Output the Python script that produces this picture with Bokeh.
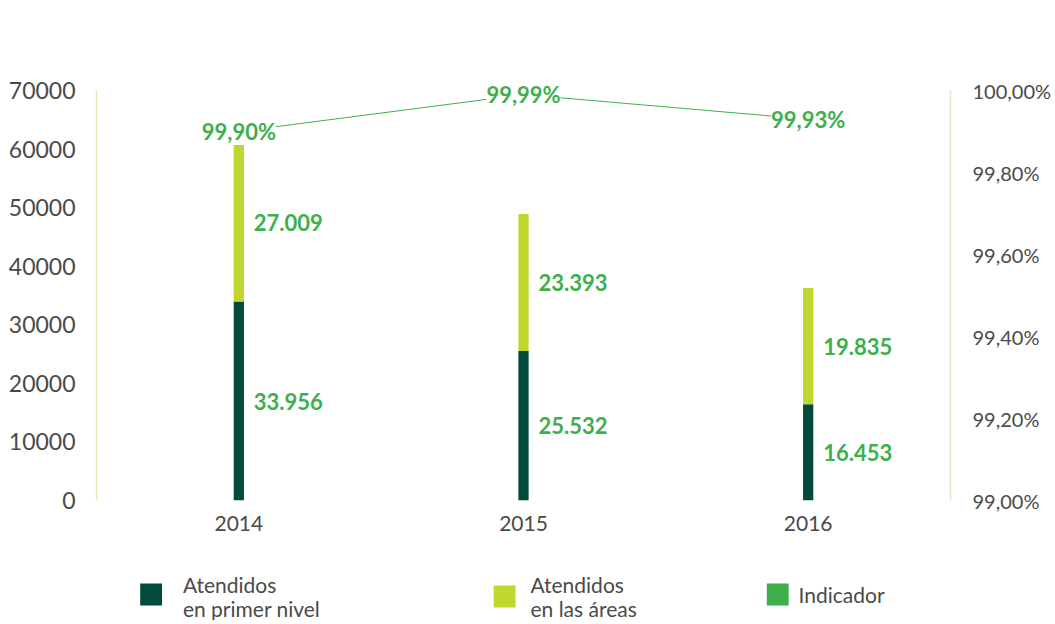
from bokeh.plotting import figure
from bokeh.models import (FactorRange, Range1d, LinearAxis, FixedTicker, CustomJSTickFormatter,
                          ColumnDataSource, LabelSet)
from bokeh.layouts import column
from bokeh.core.properties import value
from bokeh.embed import file_html
from bokeh.resources import INLINE

# ---- data ----
years = ["2014", "2015", "2016"]
primer_nivel = [33956, 25532, 16453]
areas = [27009, 23393, 19835]
indicador = [99.90, 99.99, 99.93]
left_ticks = [0, 10000, 20000, 30000, 40000, 50000, 60000, 70000]
right_ticks = [99.0, 99.2, 99.4, 99.6, 99.8, 100.0]
legend_labels = ["Atendidos\nen primer nivel", "Atendidos\nen las áreas", "Indicador"]

DARK = "#004b3c"
LIGHT = "#c0d72f"
MID = "#3daf4b"
GRAY = "#4a4a4a"
AXIS = "#e3ecb8"
FONT = "Lato"

def fmt_int(v):
    return f"{v:,}".replace(",", ".")

def fmt_pct(v):
    return f"{v:.2f}".replace(".", ",") + "%"

W = 1054
BL, BR = 96, 98
TOP, BOT, H = 16, 40, 540
FRAME_H = H - TOP - BOT  # 484 px; 70000 sits 410 px above the baseline

p = figure(width=W, height=H, x_range=FactorRange(factors=years),
           y_range=Range1d(0, 70000 * FRAME_H / 410),
           output_backend="svg", toolbar_location=None,
           min_border_left=BL, min_border_right=BR, min_border_top=TOP, min_border_bottom=BOT)
p.outline_line_color = None
p.grid.grid_line_color = None
p.background_fill_color = "white"

# right range: 99.00 at bottom, 100.00 at the height of 70000
p.extra_y_ranges = {"pct": Range1d(99.0, 99.0 + FRAME_H / 410)}

src = ColumnDataSource(dict(year=years, primer=primer_nivel, areas=areas))
p.vbar_stack(["primer", "areas"], x="year", width=0.036, color=[DARK, LIGHT], source=src,
             line_color=None)

# value labels
lab_x, lab_y, lab_t = [], [], []
for y, a, b in zip(years, primer_nivel, areas):
    lab_x += [y, y]
    lab_y += [a / 2, a + b / 2]
    lab_t += [fmt_int(a), fmt_int(b)]
p.text(x=lab_x, y=lab_y, text=lab_t, x_offset=15, text_baseline="middle", text_align="left",
       text_font=value(FONT), text_font_style="bold", text_font_size="22px", text_color=MID)

# indicator line
isrc = ColumnDataSource(dict(year=years, ind=indicador, lab=[fmt_pct(v) for v in indicador]))
p.line(x="year", y="ind", source=isrc, y_range_name="pct", line_color=MID, line_width=1)
p.add_layout(LabelSet(x="year", y="ind", text="lab", source=isrc, y_range_name="pct",
                      text_align="center", text_baseline="middle", text_font=value(FONT),
                      text_font_style="bold", text_font_size="22px", text_color=MID,
                      background_fill_color="white", border_line_color=None))

def style_axis(ax, standoff, size):
    ax.axis_line_color = AXIS
    ax.axis_line_width = 1.5
    ax.major_tick_line_color = None
    ax.minor_tick_line_color = None
    ax.major_tick_out = 0
    ax.major_tick_in = 0
    ax.minor_tick_out = 0
    ax.minor_tick_in = 0
    ax.major_label_text_font = FONT
    ax.major_label_text_font_size = size
    ax.major_label_text_color = GRAY
    ax.major_label_standoff = standoff

# left axis
ly = p.yaxis[0]
ly.ticker = FixedTicker(ticks=left_ticks)
ly.bounds = (0, 70000)
style_axis(ly, 21, "23px")

# right axis
ra = LinearAxis(y_range_name="pct", ticker=FixedTicker(ticks=right_ticks),
                formatter=CustomJSTickFormatter(code="return tick.toFixed(2).replace('.', ',') + '%';"))
ra.bounds = (99.0, 100.0)
style_axis(ra, 22, "20px")
p.add_layout(ra, "right")

# x axis
xa = p.xaxis[0]
style_axis(xa, 15, "21px")
xa.axis_line_color = None

# legend figure (x data = page pixels)
LH = 80
lg = figure(width=W, height=LH, x_range=Range1d(BL, W - BR), y_range=Range1d(LH, 0),
            output_backend="svg", toolbar_location=None,
            min_border_left=BL, min_border_right=BR, min_border_top=0, min_border_bottom=0)
lg.axis.visible = False
lg.grid.grid_line_color = None
lg.outline_line_color = None
sq_x = [151, 507, 782]
sq_y = [54, 56, 54]
text_x = [183, 533, 803]
lg.rect(x=sq_x, y=sq_y, width=22, height=22, fill_color=[DARK, LIGHT, MID], line_color=None)

tx, ty, tt = [], [], []
for x, lab in zip(text_x, legend_labels):
    lines = lab.split("\n")
    if len(lines) == 1:
        tx.append(x); ty.append(54); tt.append(lines[0])
    else:
        for i, ln in enumerate(lines):
            tx.append(x); ty.append(44 + 24 * i); tt.append(ln)
lg.text(x=tx, y=ty, text=tt, text_baseline="middle", text_align="left",
        text_font=value(FONT), text_font_size="21px", text_color=GRAY)

layout = column(p, lg, spacing=0)
open("out.html", "w").write(file_html(layout, INLINE))
